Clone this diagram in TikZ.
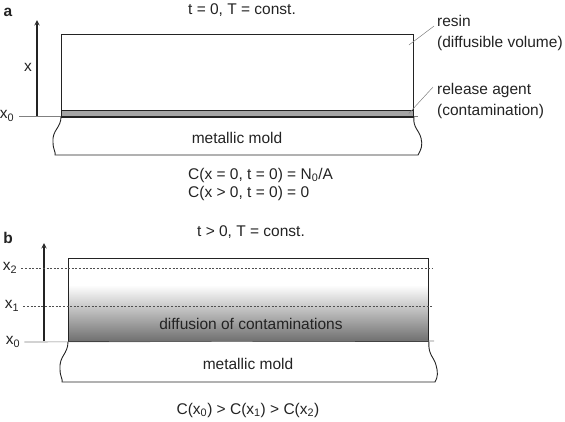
\documentclass[tikz,border=0pt]{standalone}
\usepackage{fontspec}
\setmainfont{Liberation Sans}
\usepackage{tikz}
\usetikzlibrary{arrows,positioning,calc}
\definecolor{ink}{RGB}{35,35,35}
\definecolor{agentgray}{RGB}{165,165,165}
\definecolor{deepgray}{RGB}{112,112,112}

\begin{document}
\begin{tikzpicture}[
    x=1pt, y=-1pt,
    txt/.style={inner sep=0pt, text=ink, font=\fontsize{15.5}{21}\selectfont},
    lbl/.style={txt, align=left, anchor=west},
    panel/.style={txt, font=\fontsize{15.5}{21}\selectfont\bfseries},
    outline/.style={draw=ink, line width=0.9pt},
    layerbox/.style={outline, inner sep=0pt, anchor=north west},
    arrow/.style={->, >=stealth, line width=1.4pt, ink},
    level/.style={draw=gray, line width=0.6pt},
    dashline/.style={draw=ink!80, dash pattern=on 2pt off 1.6pt, line width=0.5pt},
    leader/.style={draw=gray, line width=0.5pt}
]
\useasboundingbox (0,0) rectangle (565,421);

% Panel a: initial state
\node[panel] (pa) at (8,12) {a};
\node[txt] (ta) at (242,10) {t = 0, T = const.};

% Axis
\node[txt] (xa) at (28,67) {x};
\node[txt] (x0a) at (7,116) {x\textsubscript{0}};
\coordinate (axbot) at (37,116);
\coordinate (axtop) at (37,20);
\draw[arrow] (axbot) -- (axtop);
\draw[level] ([xshift=5pt]x0a.east) -- (418,116);

% Resin and release agent
\node[layerbox, minimum width=352pt, minimum height=82pt] (resinbox) at (61,34) {};
\node[layerbox, fill=agentgray, line width=0.8pt, minimum width=352pt, minimum height=6pt] (agent) at (61,110) {};
\draw[ink, line width=1.6pt] (agent.south west) -- (agent.south east);

% Mold
\draw[outline] (agent.south west) .. controls (61,128) and (52,130) .. (53,142)
    .. controls (53,150) and (56,152) .. (55,155) -- (418,155)
    .. controls (421,150) and (423,145) .. (421,138)
    .. controls (419,130) and (413,128) .. (agent.south east);
\node[txt] (molda) at (237,138) {metallic mold};

% Labels
\node[lbl] (resin) at (437,33) {resin\\(diffusible volume)};
\node[lbl] (release) at (437,101) {release agent\\(contamination)};
\draw[leader] ([xshift=-5pt,yshift=-11pt]resinbox.north east) -- ([xshift=-3pt,yshift=-11pt]resin.north west);
\draw[leader] ([xshift=-5pt]agent.east) -- ([xshift=-4pt,yshift=-4pt]release.north west);

% Initial conditions
\node[txt, anchor=west] (cnd1) at (188,175) {C(x = 0, t = 0) = N\textsubscript{0}/A};
\node[txt, anchor=west] (cnd2) at (188,193) {C(x > 0, t = 0) = 0};

% Panel b: diffusion
\node[panel] (pb) at (8,238) {b};
\node[txt] (tb) at (251,232) {t > 0, T = const.};

% Gradient of contamination
\fill[white] (68,258) rectangle (428,285);
\shade[top color=white, bottom color=deepgray] (68,285) rectangle (428,341);
\node[layerbox, minimum width=360pt, minimum height=83pt] (diffbox) at (68,258) {};
\node[txt] (diff) at (251,324) {diffusion of contaminations};

% Axis and levels
\node[txt] (x2b) at (10,268) {x\textsubscript{2}};
\node[txt] (x1b) at (12,306) {x\textsubscript{1}};
\node[txt] (x0b) at (13,342) {x\textsubscript{0}};
\coordinate (bxbot) at (44,341);
\coordinate (bxtop) at (44,243);
\draw[arrow] (bxbot) -- (bxtop);
\draw[dashline] ([xshift=4pt]x2b.east) -- (433,268);
\draw[dashline] ([xshift=4pt]x1b.east) -- (433,306);
\draw[level] ([xshift=4pt]x0b.east) -- (434,341);

% Mold
\draw[outline] (diffbox.south west) .. controls (68,354) and (59,356) .. (60,369)
    .. controls (60,377) and (63,379) .. (62,382) -- (435,382)
    .. controls (438,377) and (438,372) .. (436,365)
    .. controls (434,357) and (428,355) .. (diffbox.south east);
\node[txt] (moldb) at (248,364) {metallic mold};

% Ordering
\node[txt] (order) at (248,410) {C(x\textsubscript{0}) > C(x\textsubscript{1}) > C(x\textsubscript{2})};

\end{tikzpicture}
\end{document}
